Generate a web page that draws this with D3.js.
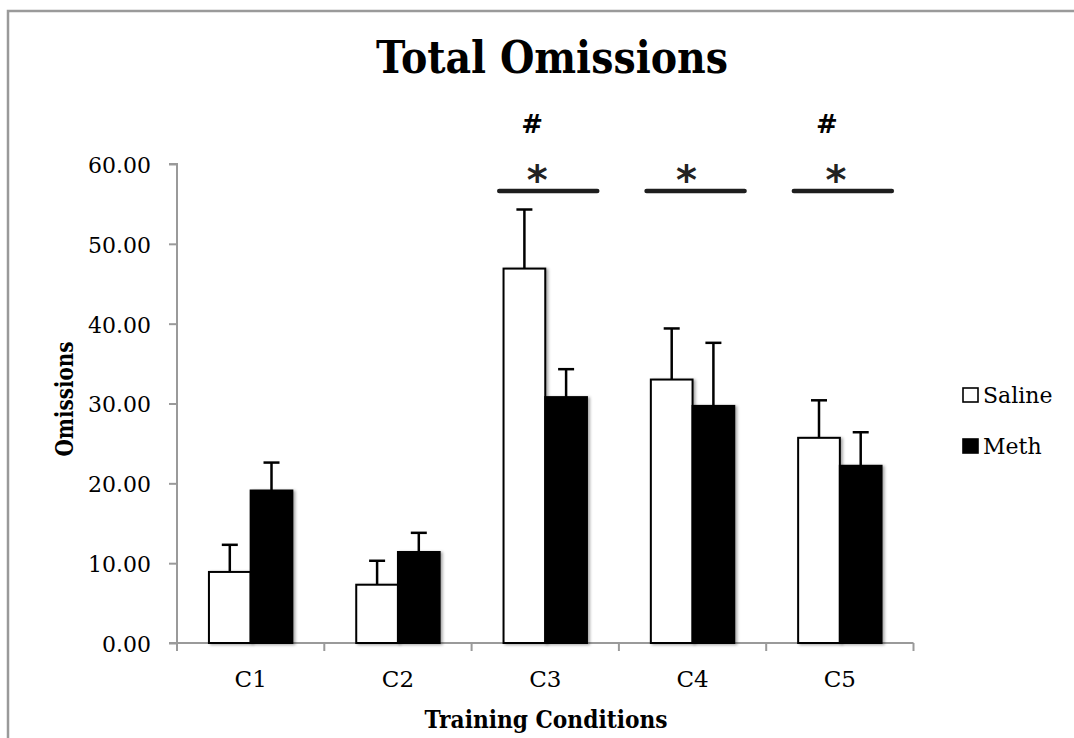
<!DOCTYPE html>
<html>
<head>
<meta charset="utf-8">
<script src="https://cdn.jsdelivr.net/npm/d3@7"></script>
<style>
  html, body { margin: 0; padding: 0; background: #fff; }
  svg { display: block; }
</style>
</head>
<body>
<script>
// ---- Data ----
const categories = ["C1", "C2", "C3", "C4", "C5"];
const seriesNames = ["Saline", "Meth"];
const salineMeans = [8.9, 7.3, 46.9, 33.0, 25.7];
const salineErrors = [3.4, 3.0, 7.4, 6.4, 4.7];
const methMeans = [19.1, 11.4, 30.8, 29.7, 22.2];
const methErrors = [3.5, 2.4, 3.5, 7.9, 4.2];
const yTickValues = [0, 10, 20, 30, 40, 50, 60];
const starGroups = ["C3", "C4", "C5"];
const hashGroups = ["C3", "C5"];

// ---- Layout ----
const W = 1074, H = 738;
const plotLeft = 177, plotRight = 913.5, plotTop = 164, plotBottom = 643;
const serif = "'DejaVu Serif', serif";

const svg = d3.select("body").append("svg").attr("width", W).attr("height", H);

const defs = svg.append("defs");
const f = defs.append("filter").attr("id", "shadow").attr("x", "-20%").attr("y", "-20%").attr("width", "150%").attr("height", "150%");
f.append("feDropShadow").attr("dx", 2).attr("dy", 1).attr("stdDeviation", 1.8).attr("flood-color", "#000").attr("flood-opacity", 0.35);

// outer frame
svg.append("path")
  .attr("d", `M8,${H}V11H${W}`)
  .attr("fill", "none").attr("stroke", "#9a9a9a").attr("stroke-width", 2.5);

// scales
const x = d3.scaleBand().domain(categories).range([plotLeft, plotRight]).padding(0);
const xInner = d3.scaleBand().domain(seriesNames).range([0, x.bandwidth()]).paddingInner(0).paddingOuter(0.766);
const y = d3.scaleLinear().domain([0, 60]).range([plotBottom, plotTop]);

// title
svg.append("text")
  .attr("x", 552).attr("y", 73)
  .attr("text-anchor", "middle")
  .attr("font-family", serif).attr("font-weight", "bold").attr("font-size", 44)
  .attr("textLength", 352).attr("lengthAdjust", "spacingAndGlyphs")
  .text("Total Omissions");

// y axis
const yAxis = d3.axisLeft(y).tickValues(yTickValues).tickFormat(d3.format(".2f")).tickSize(8).tickPadding(18);
const gy = svg.append("g").attr("transform", `translate(${plotLeft},0)`).call(yAxis);
gy.select(".domain").attr("stroke", "#9a9a9a").attr("stroke-width", 2).attr("d", `M-8,${plotTop}H0V${plotBottom}`);
gy.selectAll(".tick line").attr("stroke", "#9a9a9a").attr("stroke-width", 2);
gy.selectAll(".tick text").attr("font-family", serif).attr("font-size", 22).attr("fill", "#000").attr("dy", "0.38em");

// x axis
const xAxis = d3.axisBottom(x).tickSize(0).tickPadding(28);
const gx = svg.append("g").attr("transform", `translate(0,${plotBottom})`).call(xAxis);
gx.select(".domain").attr("stroke", "#9a9a9a").attr("stroke-width", 2).attr("d", `M${plotLeft - 8},0H${plotRight}`);
gx.selectAll(".tick text").attr("font-family", serif).attr("font-size", 23).attr("fill", "#000");
// boundary ticks
const boundaries = categories.map(c => x(c)).concat([x(categories[categories.length - 1]) + x.bandwidth()]);
gx.selectAll("line.bound").data(boundaries).enter().append("line")
  .attr("class", "bound")
  .attr("x1", d => d).attr("x2", d => d).attr("y1", 0).attr("y2", 8)
  .attr("stroke", "#9a9a9a").attr("stroke-width", 2);

// axis titles
svg.append("text")
  .attr("x", 546).attr("y", 728)
  .attr("text-anchor", "middle")
  .attr("font-family", serif).attr("font-weight", "bold").attr("font-size", 25)
  .attr("textLength", 243).attr("lengthAdjust", "spacingAndGlyphs")
  .text("Training Conditions");
svg.append("text")
  .attr("transform", "translate(73,399) rotate(-90)")
  .attr("text-anchor", "middle")
  .attr("font-family", serif).attr("font-weight", "bold").attr("font-size", 25)
  .attr("textLength", 115).attr("lengthAdjust", "spacingAndGlyphs")
  .text("Omissions");

// bars
const rows = categories.map((c, i) => ({
  cat: c,
  vals: [
    { s: "Saline", v: salineMeans[i], e: salineErrors[i], fill: "#fff" },
    { s: "Meth", v: methMeans[i], e: methErrors[i], fill: "#000" }
  ]
}));

const groups = svg.append("g").selectAll("g").data(rows).enter().append("g")
  .attr("transform", d => `translate(${x(d.cat)},0)`);

// error bars (drawn first, bars over them)
groups.selectAll("g.err").data(d => d.vals).enter().append("g").attr("class", "err")
  .each(function (d) {
    const g = d3.select(this);
    const cx = xInner(d.s) + xInner.bandwidth() / 2;
    g.append("line").attr("x1", cx).attr("x2", cx).attr("y1", y(d.v)).attr("y2", y(d.v + d.e))
      .attr("stroke", "#000").attr("stroke-width", 2.5);
    g.append("line").attr("x1", cx - 8).attr("x2", cx + 8).attr("y1", y(d.v + d.e)).attr("y2", y(d.v + d.e))
      .attr("stroke", "#000").attr("stroke-width", 2.5);
  });

groups.selectAll("rect").data(d => d.vals).enter().append("rect")
  .attr("x", d => xInner(d.s))
  .attr("y", d => y(d.v))
  .attr("width", xInner.bandwidth())
  .attr("height", d => y(0) - y(d.v))
  .attr("fill", d => d.fill)
  .attr("stroke", "#000").attr("stroke-width", 2)
  .attr("filter", "url(#shadow)");

// significance markers
const sig = svg.append("g");
sig.selectAll("line").data(starGroups).enter().append("line")
  .attr("x1", d => x(d) + x.bandwidth() / 2 - 46)
  .attr("x2", d => x(d) + x.bandwidth() / 2 + 52)
  .attr("y1", 191).attr("y2", 191)
  .attr("stroke", "#1e1e1e").attr("stroke-width", 4.5).attr("stroke-linecap", "round");
sig.selectAll("text.star").data(starGroups).enter().append("text").attr("class", "star")
  .attr("x", (d, i) => x(d) + x.bandwidth() / 2 - 8 + i * 2)
  .attr("y", 194)
  .attr("text-anchor", "middle")
  .attr("font-family", "'DejaVu Sans', sans-serif").attr("font-weight", "bold").attr("font-size", 40)
  .attr("fill", "#222")
  .text("*");
sig.selectAll("text.hash").data(hashGroups).enter().append("text").attr("class", "hash")
  .attr("x", d => x(d) + x.bandwidth() / 2 - 13)
  .attr("y", 133)
  .attr("text-anchor", "middle")
  .attr("font-family", serif).attr("font-weight", "bold").attr("font-size", 26)
  .attr("fill", "#000")
  .text("#");

// legend
const legend = svg.append("g");
const leg = legend.selectAll("g").data(seriesNames).enter().append("g")
  .attr("transform", (d, i) => `translate(963,${388 + i * 51})`);
leg.append("rect").attr("width", 15).attr("height", 14)
  .attr("fill", (d, i) => i === 0 ? "#fff" : "#000")
  .attr("stroke", "#000").attr("stroke-width", 1.6);
leg.append("text").attr("x", 20).attr("y", 15)
  .attr("font-family", serif).attr("font-size", 22).attr("fill", "#000")
  .text(d => d);
</script>
</body>
</html>
